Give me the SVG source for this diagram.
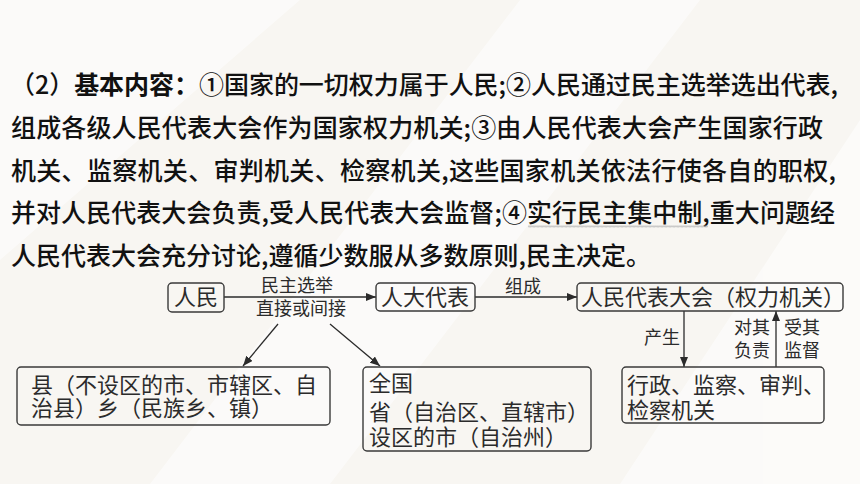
<svg xmlns="http://www.w3.org/2000/svg" width="860" height="484" viewBox="0 0 860 484">
<defs>
<style>
.t{font-family:"Noto Sans CJK SC","Noto Sans",sans-serif;font-size:25px;font-weight:500;fill:#111}
.b{font-weight:bold}
.bx{fill:none;stroke:#3a3a3a;stroke-width:1.4}
.n{font-family:"Noto Sans CJK SC","Noto Sans",sans-serif;font-size:22px;fill:#2b2b2b}
.l{font-family:"Noto Sans CJK SC","Noto Sans",sans-serif;font-size:18px;fill:#2b2b2b;text-anchor:middle}
.c{fill:none;stroke:#2b2b2b;stroke-width:1.3}
</style>
<marker id="ah" viewBox="0 0 10 8" refX="10" refY="4" markerWidth="10" markerHeight="8" markerUnits="userSpaceOnUse" orient="auto">
<path d="M0,0 L10,4 L0,8 Z" fill="#2b2b2b"/>
</marker>
<pattern id="wave" width="4" height="3" patternUnits="userSpaceOnUse">
<path d="M0,2.5 L1,0.5 L2,2.5 L3,0.5 L4,2.5" fill="none" stroke="#b8b8b8" stroke-width="0.7"/>
</pattern>
</defs>
<rect width="860" height="484" fill="#f8f6f2"/>
<g fill="#ffffff" opacity="0.55">
<polygon points="0,0 300,0 0,260"/>
<polygon points="520,0 700,0 330,484 150,484"/>
<polygon points="860,120 860,484 620,484"/>
</g>
<g id="paragraph">
<text class="t" x="10" y="94" textLength="828" lengthAdjust="spacing">（2）<tspan class="b">基本内容：</tspan>①国家的一切权力属于人民;②人民通过民主选举选出代表,</text>
<text class="t" x="11" y="137" textLength="812" lengthAdjust="spacing">组成各级人民代表大会作为国家权力机关;③由人民代表大会产生国家行政</text>
<text class="t" x="11" y="180" textLength="825" lengthAdjust="spacing">机关、监察机关、审判机关、检察机关,这些国家机关依法行使各自的职权,</text>
<text class="t" x="11" y="222" textLength="824" lengthAdjust="spacing">并对人民代表大会负责,受人民代表大会监督;④实行民主集中制,重大问题经</text>
<text class="t" x="11" y="265">人民代表大会充分讨论,遵循少数服从多数原则,民主决定。</text>
<rect x="528" y="225" width="180" height="3" fill="url(#wave)"/>
</g>
<g id="connectors">
<line class="c" x1="224" y1="297" x2="376" y2="297" marker-end="url(#ah)"/>
<line class="c" x1="475" y1="297" x2="577" y2="297" marker-end="url(#ah)"/>
<line class="c" x1="278" y1="324" x2="243" y2="366" marker-end="url(#ah)"/>
<line class="c" x1="330" y1="324" x2="380" y2="366" marker-end="url(#ah)"/>
<line class="c" x1="684" y1="311" x2="684" y2="367" marker-end="url(#ah)"/>
<line class="c" x1="776" y1="367" x2="776" y2="311" marker-end="url(#ah)"/>
<text class="l" x="297" y="292">民主选举</text>
<text class="l" x="301" y="315">直接或间接</text>
<text class="l" x="523" y="293">组成</text>
<text class="l" x="662" y="344">产生</text>
<text class="l" x="752" y="334">对其</text>
<text class="l" x="752" y="357">负责</text>
<text class="l" x="802" y="334">受其</text>
<text class="l" x="802" y="357">监督</text>
</g>
<g id="renmin">
<rect class="bx" x="168" y="283" width="56" height="29" rx="4"/>
<text class="n" x="174" y="305">人民</text>
</g>
<g id="rendadaibiao">
<rect class="bx" x="376" y="283" width="99" height="28" rx="4"/>
<text class="n" x="381" y="305">人大代表</text>
</g>
<g id="renmindaibiaodahui">
<rect class="bx" x="577" y="283" width="266" height="28" rx="4"/>
<text class="n" x="581" y="305">人民代表大会（权力机关）</text>
</g>
<g id="county">
<rect class="bx" x="17" y="367" width="313" height="58" rx="4"/>
<text class="n" x="31" y="393">县（不设区的市、市辖区、自</text>
<text class="n" x="31" y="416">治县）乡（民族乡、镇）</text>
</g>
<g id="national">
<rect class="bx" x="363" y="367" width="228" height="84" rx="4"/>
<text class="n" x="369" y="391">全国</text>
<text class="n" x="369" y="420">省（自治区、直辖市）</text>
<text class="n" x="369" y="445">设区的市（自治州）</text>
</g>
<g id="organs">
<rect class="bx" x="622" y="367" width="202" height="56" rx="4"/>
<text class="n" x="627" y="393">行政、监察、审判、</text>
<text class="n" x="627" y="418">检察机关</text>
</g>
</svg>
